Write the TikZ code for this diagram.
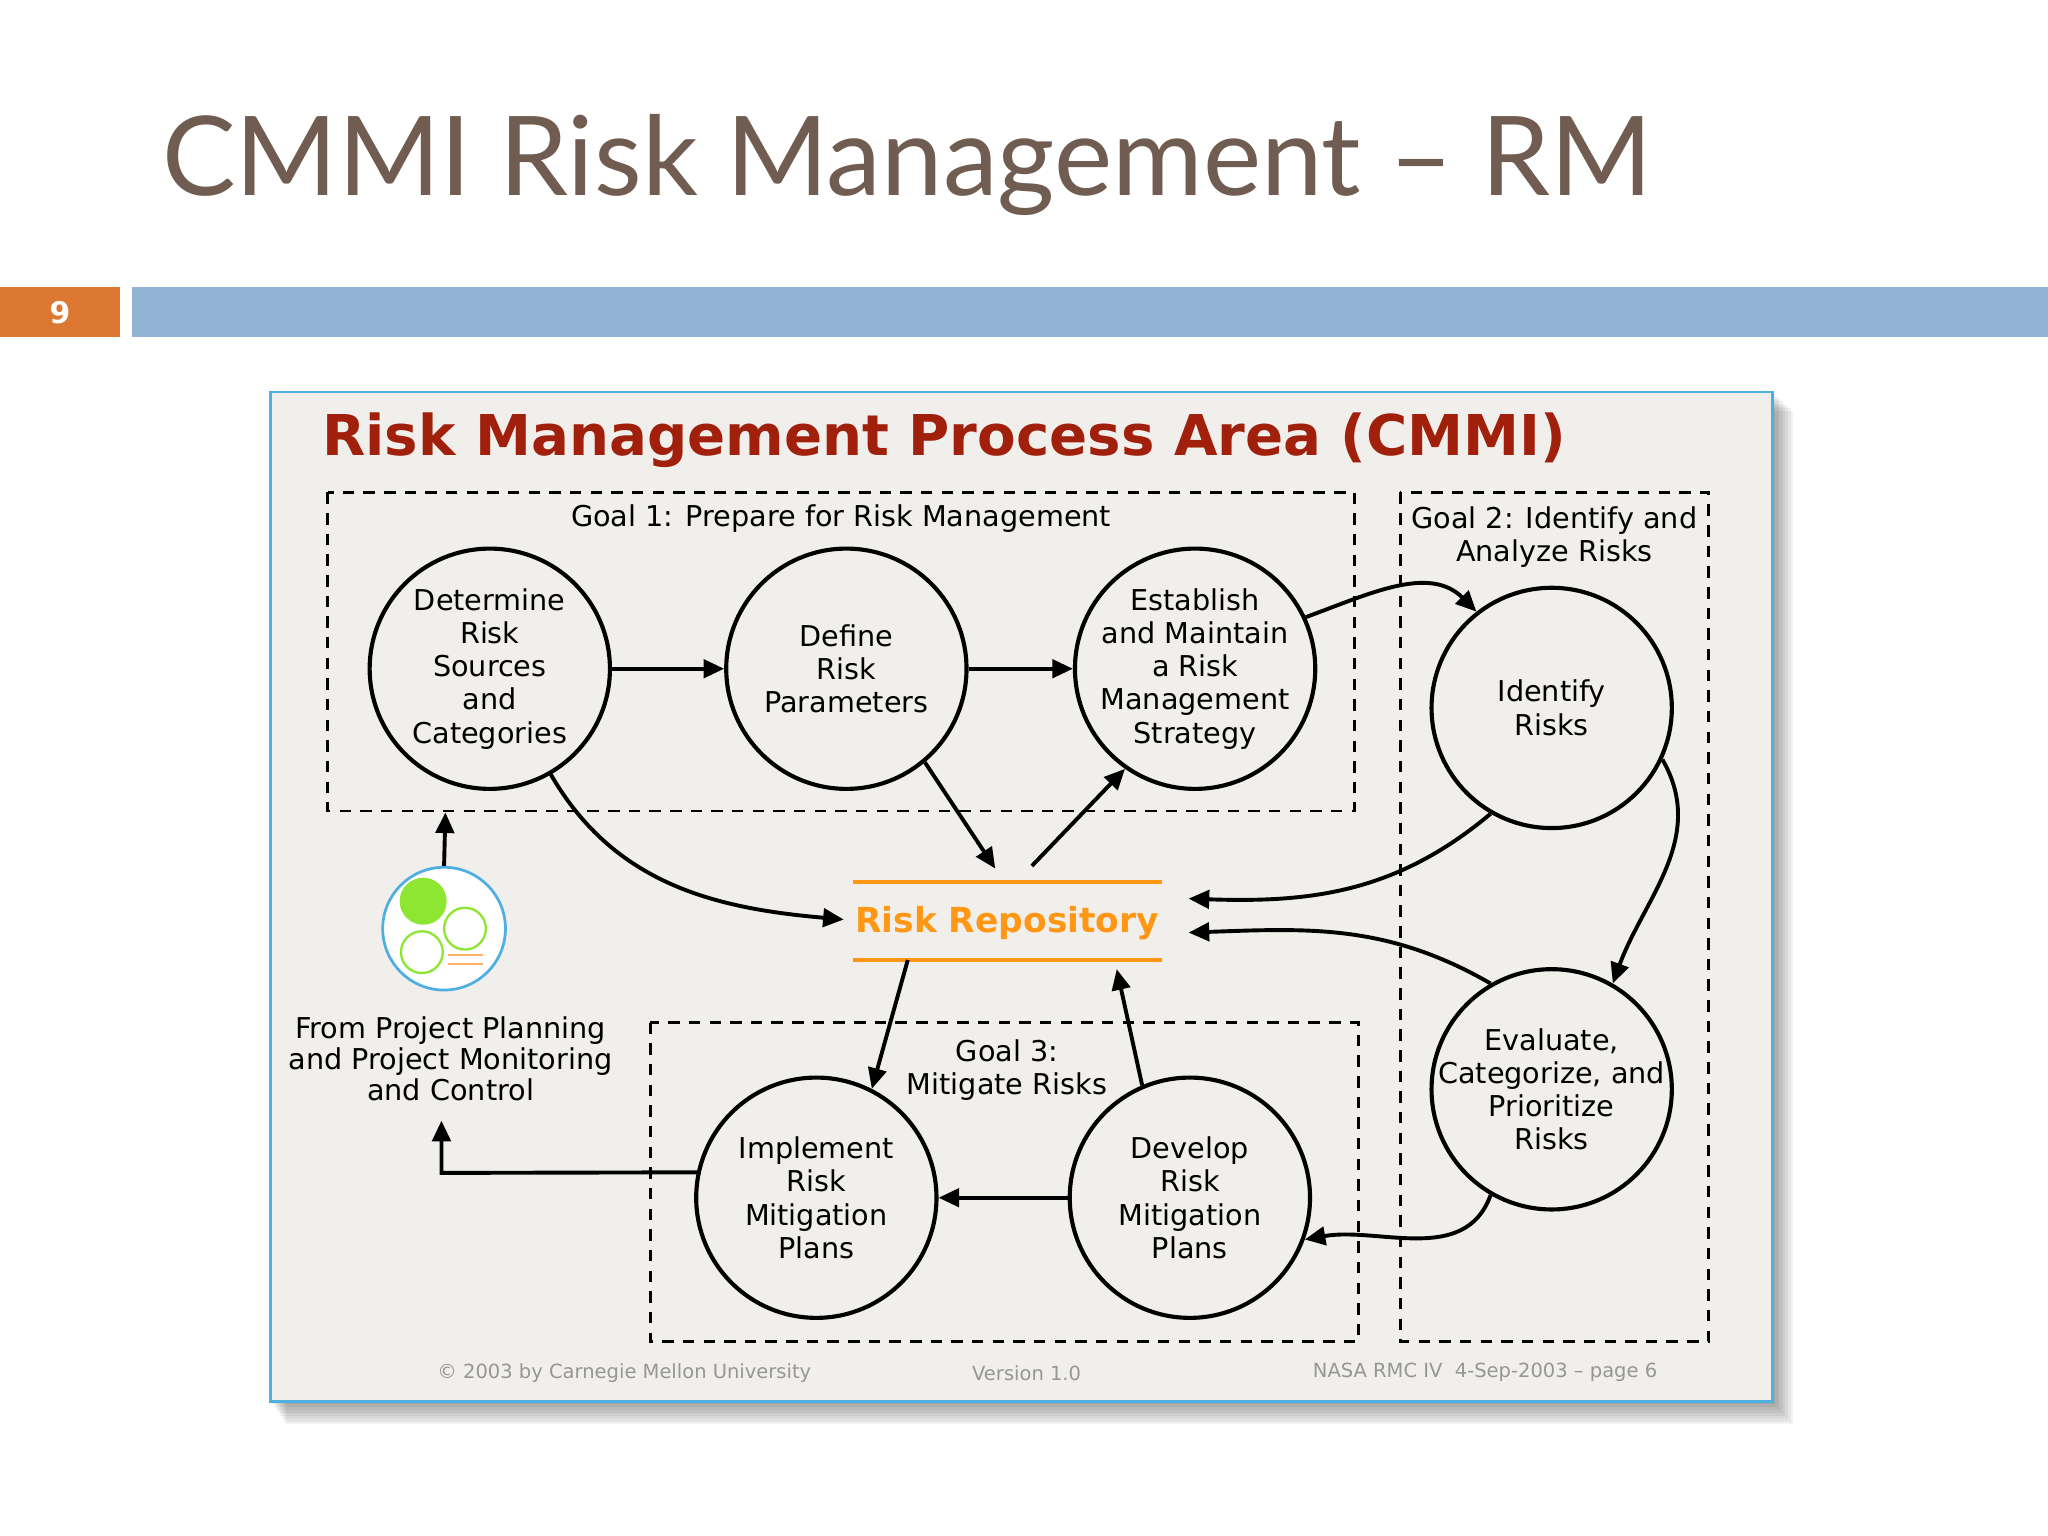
\documentclass[tikz,border=0pt]{standalone}
\usepackage{fontspec}
\setmainfont{DejaVu Sans}
\newfontfamily\titlefont{Lato}
\usetikzlibrary{arrows.meta}
\definecolor{titlebrown}{RGB}{112,92,80}
\definecolor{barblue}{RGB}{146,180,212}
\definecolor{barorange}{RGB}{220,120,50}
\definecolor{panel}{RGB}{241,239,236}
\definecolor{frameblue}{RGB}{80,175,225}
\definecolor{headred}{RGB}{160,32,12}
\definecolor{repo}{RGB}{255,150,20}
\definecolor{foot}{RGB}{150,150,150}
\definecolor{icongreen}{RGB}{140,230,50}
\tikzset{
  proc/.style={circle,draw,line width=1.8pt,minimum size=3.68cm,inner sep=0pt},
  ptext/.style={align=center,font=\fontsize{12.5}{14.5}\selectfont},
  goalbox/.style={draw,dashed,line width=1.2pt,dash pattern=on 5pt off 4pt},
  conn/.style={line width=1.7pt,-{Triangle[length=9pt,width=8pt]}},
  lbl/.style={align=center,font=\fontsize{12.5}{14.5}\selectfont},
  footer/.style={text=foot,font=\fontsize{8.5}{10}\selectfont}
}
\begin{document}
\begin{tikzpicture}[x=0.02cm,y=-0.02cm]
\useasboundingbox (0,0) rectangle (1568,1176);
\fill[white] (0,0) rectangle (1568,1176);
% title
\node[text=titlebrown,font=\titlefont\fontsize{48}{56}\selectfont,anchor=base west] (title) at (118,150) {CMMI Risk Management – RM};
\fill[barorange] (0,220) rectangle (92,258);
\node[text=white,font=\bfseries\fontsize{13}{15}\selectfont] (num) at (46,239) {9};
\fill[barblue] (101,220) rectangle (1568,258);
% panel with soft shadow
\foreach \i in {1,...,8}{\fill[black,opacity=0.05] (207+1.5*\i,300+1.8*\i) rectangle (1357+2*\i,1073+2.2*\i);}
\draw[fill=panel,draw=frameblue,line width=1pt] (207,300) rectangle (1357,1073);
\node[text=headred,font=\bfseries\fontsize{24.5}{28}\selectfont] (head) at (723,337) {Risk Management Process Area (CMMI)};
% goal boxes
\draw[goalbox] (251,377) rectangle (1037,621);
\draw[goalbox] (1072,377) rectangle (1308,1027);
\draw[goalbox] (498,783) rectangle (1040,1027);
\node[lbl] (g1) at (644,397) {Goal 1: Prepare for Risk Management};
\node[lbl] (g2) at (1190,411) {Goal 2: Identify and\\Analyze Risks};
\node[lbl] (g3) at (771,819) {Goal 3:\\Mitigate Risks};
% circles
\node[proc] (det) at (375,512) {};
\node[ptext] (detT) at (det) {Determine\\Risk\\Sources\\and\\Categories};
\node[proc] (def) at (648,512) {};
\node[ptext] (defT) at (def) {Define\\Risk\\Parameters};
\node[proc] (est) at (915,512) {};
\node[ptext] (estT) at (est) {Establish\\and Maintain\\a Risk\\Management\\Strategy};
\node[proc] (ide) at (1188,542) {};
\node[ptext] (ideT) at (ide) {Identify\\Risks};
\node[proc] (eva) at (1188,834) {};
\node[ptext] (evaT) at (eva) {Evaluate,\\Categorize, and\\Prioritize\\Risks};
\node[proc] (imp) at (625,917) {};
\node[ptext] (impT) at (imp) {Implement\\Risk\\Mitigation\\Plans};
\node[proc] (dev) at (911,917) {};
\node[ptext] (devT) at (dev) {Develop\\Risk\\Mitigation\\Plans};
% repository
\node[text=repo,font=\bfseries\fontsize{15}{18}\selectfont] (rep) at (771,707) {Risk Repository};
\draw[repo,line width=1.8pt] (653,675) -- (890,675) (653,735) -- (890,735);
\coordinate (repW) at (646,704);
\coordinate (repE1) at (910,688);
\coordinate (repE2) at (910,714);
% icon
\node[circle,draw=frameblue,line width=1.2pt,fill=white,minimum size=1.88cm] (icon) at (340,711) {};
\fill[icongreen] (324,690) circle (18);
\draw[icongreen,line width=1pt] (356,711) circle (16) (323,729) circle (16);
\draw[orange!60,line width=1pt] (343,731) -- (370,731) (343,738) -- (370,738);
\node[lbl,font=\fontsize{12.5}{13.5}\selectfont] (from) at (345,811) {From Project Planning\\and Project Monitoring\\and Control};
% connectors
\draw[conn] (det.east) -- (def.west);
\draw[conn] (def.east) -- (est.west);
\draw[conn] (est.25) to[out=20,in=135] (ide.128);
\draw[conn] (def.-50) -- (762,665);
\draw[conn] (790,663) -- (est.-125);
\draw[conn] (det.-60) to[out=-60,in=175] (repW);
\draw[conn] (ide.-120) to[out=-140,in=-2] (repE1);
\draw[conn] (ide.-25) to[out=-60,in=70] (eva.60);
\draw[conn] (eva.120) to[out=150,in=2] (repE2);
\draw[conn] (eva.-120) to[out=-110,in=10] (dev.-20);
\draw[conn] (dev.west) -- (imp.east);
\draw[conn] (imp.168) -- (338,898) -- (338,858);
\draw[conn] (695,735) -- (imp.63);
\draw[conn] (dev.113) -- (855,742);
\draw[conn] (icon.north) -- (341,622);
% footer
\node[footer] (f1) at (478,1051) {© 2003 by Carnegie Mellon University};
\node[footer] (f2) at (786,1051) {Version 1.0};
\node[footer] (f3) at (1137,1051) {NASA RMC IV\ \ 4-Sep-2003 – page 6};
\end{tikzpicture}
\end{document}
